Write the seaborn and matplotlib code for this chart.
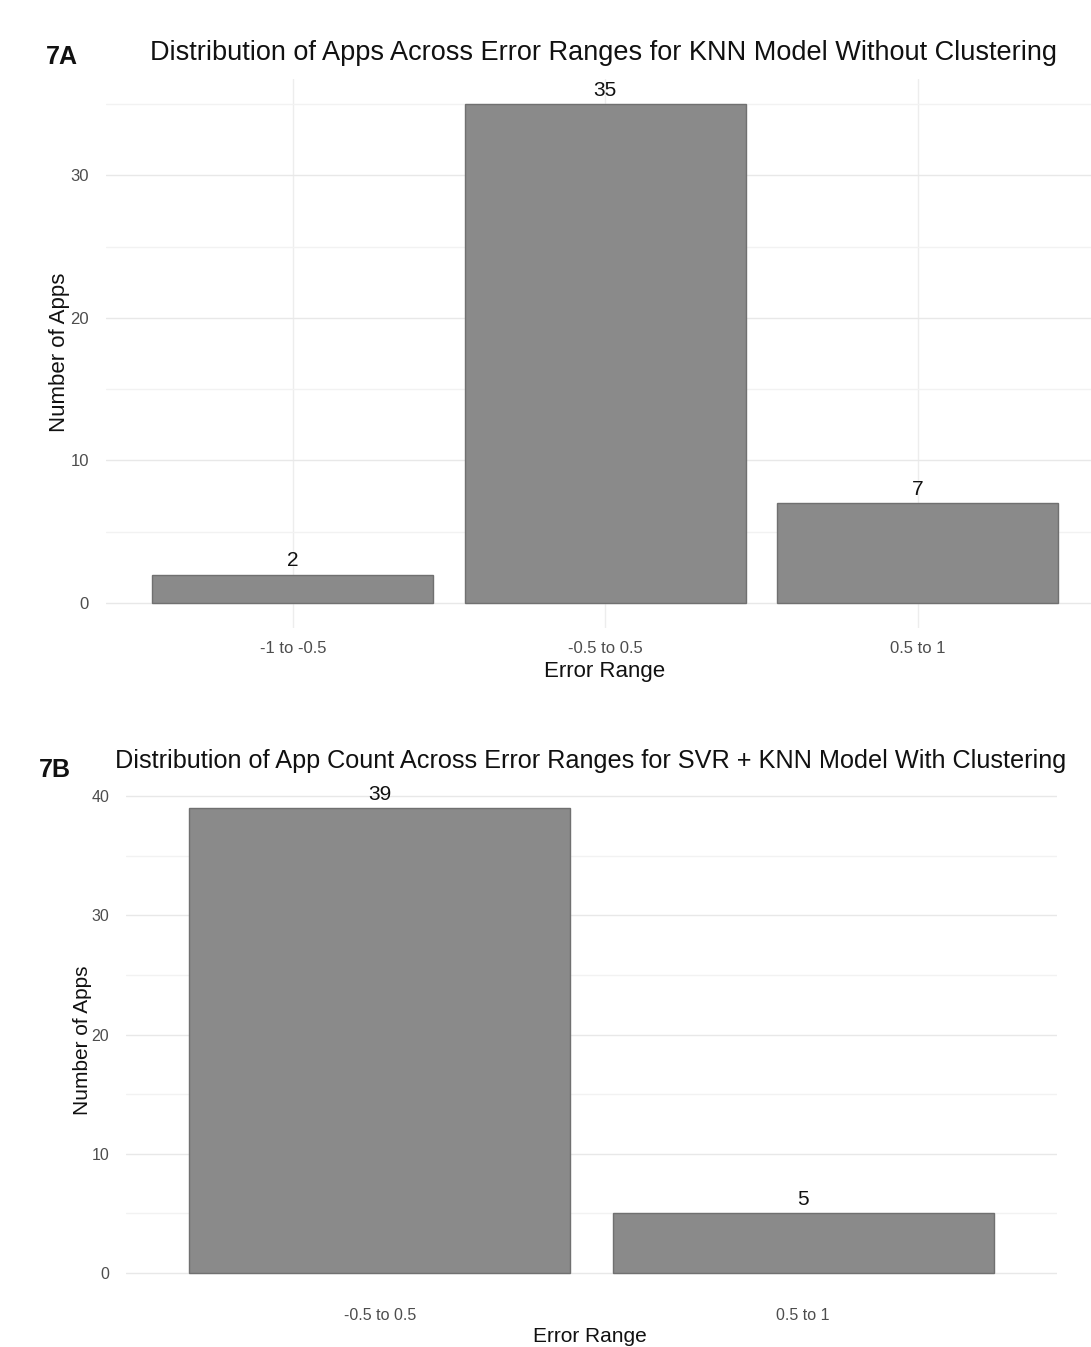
import matplotlib
matplotlib.use("Agg")
import matplotlib.pyplot as plt
from matplotlib.ticker import MultipleLocator
import seaborn as sns
import pandas as pd

# Panel 7A: KNN without clustering
ranges_a = ["-1 to -0.5", "-0.5 to 0.5", "0.5 to 1"]
counts_a = [2, 35, 7]
# Panel 7B: SVR + KNN with clustering
ranges_b = ["-0.5 to 0.5", "0.5 to 1"]
counts_b = [39, 5]

title_a = "Distribution of Apps Across Error Ranges for KNN Model Without Clustering"
title_b = "Distribution of App Count Across Error Ranges for SVR + KNN Model With Clustering"

sns.set_theme(style="white")
plt.rcParams["font.family"] = ["Liberation Sans", "DejaVu Sans"]

W, H = 1091, 1347
fig = plt.figure(figsize=(W / 100, H / 100), dpi=100)


def px_axes(left, top, right, bottom):
    return fig.add_axes([left / W, 1 - bottom / H, (right - left) / W, (bottom - top) / H])


def draw_panel(ax, cats, vals, xlim, tick_fs, vgrid):
    df = pd.DataFrame({"Error Range": cats, "Number of Apps": vals})
    sns.barplot(data=df, x="Error Range", y="Number of Apps", order=cats,
                color="#8a8a8a", saturation=1, width=0.9,
                edgecolor="#707070", linewidth=1.0, ax=ax, zorder=3)
    ymax = max(vals)
    ax.set_ylim(-0.05 * ymax, 1.05 * ymax)
    ax.set_xlim(*xlim)
    ax.yaxis.set_major_locator(MultipleLocator(10))
    ax.yaxis.set_minor_locator(MultipleLocator(5))
    ax.grid(which="major", axis="y", color="#e8e8e8", linewidth=1.0, zorder=0)
    ax.grid(which="minor", axis="y", color="#f2f2f2", linewidth=1.0, zorder=0)
    if vgrid:
        ax.grid(which="major", axis="x", color="#ededed", linewidth=1.0, zorder=0)
    ax.set_axisbelow(True)
    for s in ax.spines.values():
        s.set_visible(False)
    ax.tick_params(axis="both", which="both", length=0, labelsize=tick_fs,
                   labelcolor="#4d4d4d")
    ax.tick_params(axis="x", pad=9)
    ax.tick_params(axis="y", pad=12)
    ax.set_xlabel("")
    ax.set_ylabel("")
    for i, v in enumerate(vals):
        ax.annotate(str(v), (i, v), xytext=(0, 3), textcoords="offset points",
                    ha="center", va="bottom", fontsize=15, color="#111111",
                    fontweight="medium")
    return ax


def fig_text(x, y, s, **kw):
    fig.text(x / W, 1 - y / H, s, ha="center", va="center", color="#111111", **kw)


# 7A
ax_a = px_axes(105.5, 79, 1091, 628)
draw_panel(ax_a, ranges_a, counts_a, (-0.6, 2.555), 12, True)
fig_text(604, 53, title_a, fontsize=19.5)
fig_text(62, 57, "7A", fontsize=18, fontweight="bold")
fig_text(60, 352, "Number of Apps", rotation=90, fontsize=16)
fig_text(605, 672, "Error Range", fontsize=16)

# 7B
ax_b = px_axes(126, 785, 1057, 1296)
draw_panel(ax_b, ranges_b, counts_b, (-0.6, 1.6), 11.5, False)
fig_text(591, 761, title_b, fontsize=18.2)
fig_text(55, 770, "7B", fontsize=18, fontweight="bold")
fig_text(83, 1040, "Number of Apps", rotation=90, fontsize=15)
fig_text(590, 1337, "Error Range", fontsize=15)

fig.savefig("out.png", dpi=100, facecolor="white")
